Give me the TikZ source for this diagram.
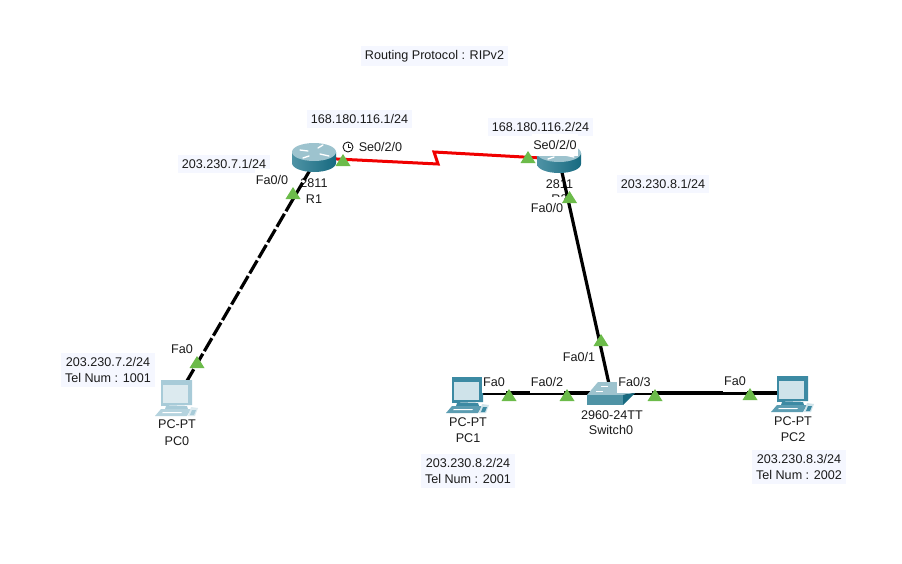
\documentclass[tikz,border=0pt]{standalone}
\usepackage{fontspec}
\setmainfont{Liberation Sans}
\definecolor{notebg}{HTML}{F5F7FF}
\definecolor{portgreen}{HTML}{6CBB4A}
\definecolor{serialred}{HTML}{F00000}
\definecolor{txt}{HTML}{1A1A1A}
\definecolor{rtop}{HTML}{9DC3CE}
\definecolor{rleft}{HTML}{4F93A5}
\definecolor{rmid}{HTML}{E6F1F4}
\definecolor{rright}{HTML}{176A80}
\definecolor{pcmon}{HTML}{3C8AA3}
\definecolor{pcbase}{HTML}{5C9DB2}
\definecolor{pcscreen}{HTML}{CFE3EA}
\definecolor{pcmonf}{HTML}{A8CBD8}
\definecolor{pcbasef}{HTML}{B5D3DE}
\definecolor{pcscreenf}{HTML}{DCEAEF}
\tikzset{
  x=1pt,y=-1pt,
  lbl/.style={inner sep=0pt,font=\fontsize{12.6}{16}\selectfont,text=txt,align=center},
  note/.style={lbl,fill=notebg,inner xsep=4pt,inner ysep=4pt},
  port/.style={lbl,fill=white,inner xsep=1pt,inner ysep=6.5pt},
  dev/.style={inner sep=0pt,minimum size=0pt},
  link/.style={line width=3.2pt,black},
  dashlink/.style={link,dash pattern=on 15pt off 3pt},
  seriallink/.style={line width=3pt,serialred,line join=miter},
  pics/porttri/.style={code={\fill[portgreen] (-7.5,0) -- (7.5,0) -- (0,-12) -- cycle;}},
  pics/routericon/.style={code={
    \path[left color=rleft,middle color=rmid,right color=rright]
      (-22,-6) -- (-22,5) arc[start angle=180,end angle=0,x radius=22,y radius=9] -- (22,-6) -- cycle;
    \fill[rtop] (0,-6) ellipse[x radius=22,y radius=9];
    \draw[white,line width=1.3pt,line cap=round]
      (-14,-8) -- (-6,-7) (4,-10) -- (9,-13) (6,-4) -- (15,-2) (-5,-2) -- (-11,0);
  }},
  pics/pcicon/.style n args={3}{code={
    % monitor
    \fill[#1] (6,0) -- (37,0) -- (37,25) -- (6,26) -- cycle;
    \fill[#3] (8,5) -- (33,5) -- (33,23) -- (8,23) -- cycle;
    \fill[#1] (11,26) -- (32,26) -- (33,29) -- (10,29) -- cycle;
    % base and keyboard
    \fill[#2] (6,29) -- (36,29) -- (32,36) -- (0,36) -- cycle;
    \fill[white] (8,32) -- (27,32) -- (26,33) -- (7,33) -- cycle;
    \fill[#3] (36,27) -- (43,28) -- (40,36) -- (33,36) -- cycle;
    \fill[#1] (37,30) -- (41,30) -- (39,35) -- (35,35) -- cycle;
  }},
}
\begin{document}
\begin{tikzpicture}
\useasboundingbox[fill=white] (0,0) rectangle (902,563);

% anchors of the devices
\node[dev] (R1) at (317,158) {};
\node[dev] (R2) at (559,159) {};
\node[dev] (PC0) at (177,398) {};
\node[dev] (PC1) at (468,393) {};
\node[dev] (PC2) at (793,393) {};
\node[dev] (SW) at (611,393) {};
\coordinate (zigA) at (438,164);
\coordinate (zigB) at (434,152);

% device texts (the links and port labels run over them)
\node[lbl] (r1model) at (314,183) {2811};
\node[lbl] (r1name) at (314,199) {R1};
\node[lbl] (r2model) at (559.5,184) {2811};
\node[lbl] (r2name) at (559.5,199) {R2};
\node[lbl] (pc0model) at (177,424) {PC-PT};
\node[lbl] (pc0name) at (177,441) {PC0};
\node[lbl] (pc1model) at (468,422) {PC-PT};
\node[lbl] (pc1name) at (468,438) {PC1};
\node[lbl] (pc2model) at (793,421) {PC-PT};
\node[lbl] (pc2name) at (793,437) {PC2};
\node[lbl] (swmodel) at (612,415) {2960-24TT};
\node[lbl] (swname) at (611,430) {Switch0};

% links
\draw[seriallink] (R1) -- (zigA) -- (zigB) -- (R2);
\draw[dashlink] (PC0) -- (R1);
\draw[link] (R2) -- (SW);
\draw[link] (PC1) -- (SW);
\draw[link] (SW) -- (PC2);

% device icons
\pic at (314,158) {routericon};
\pic at (R2) {routericon};
\pic at (155,380) {pcicon={pcmonf}{pcbasef}{pcscreenf}};
\pic at (446,377) {pcicon={pcmon}{pcbase}{pcscreen}};
\pic at (771,376) {pcicon={pcmon}{pcbase}{pcscreen}};
\fill[rtop] (587,395) -- (598,382) -- (624,382) -- (635,393) -- (623,395) -- cycle;
\fill[rleft] (587,395) -- (623,395) -- (623,405) -- (587,405) -- cycle;
\fill[rright] (623,395) -- (635,393) -- (623,405) -- cycle;
\draw[white,line width=1pt] (596,391) -- (603,391) (601,386) -- (608,386);

% notes
\node[note] (proto) at (434.5,56) {Routing Protocol : RIPv2};
\node[note] (ipserial1) at (359.5,119) {168.180.116.1/24};
\node[note] (ipserial2) at (540.5,127) {168.180.116.2/24};
\node[note] (ipr1) at (224,164) {203.230.7.1/24};
\node[note] (ipr2) at (663,184) {203.230.8.1/24};
\node[note] (ippc0) at (108,370) {203.230.7.2/24\\Tel Num : 1001};
\node[note] (ippc1) at (468,471) {203.230.8.2/24\\Tel Num : 2001};
\node[note] (ippc2) at (799,467) {203.230.8.3/24\\Tel Num : 2002};

% port labels
\node[port] (p1) at (380.5,147) {Se0/2/0};
\node[port] (p2) at (555,145) {Se0/2/0};
\node[port] (p3) at (272,180) {Fa0/0};
\node[port] (p4) at (547,208) {Fa0/0};
\node[port] (p5) at (182,349) {Fa0};
\node[port] (p6) at (494,382) {Fa0};
\node[port] (p7) at (547,382) {Fa0/2};
\node[port] (p8) at (579,357) {Fa0/1};
\node[port] (p9) at (634.5,382) {Fa0/3};
\node[port] (p10) at (735,381) {Fa0};

% clock of the DCE end
\node[circle,draw=txt,line width=0.9pt,fill=white,minimum size=10pt,inner sep=0pt] (clock) at (348,147) {};
\draw[txt,line width=0.8pt] (clock.center) -- ++(0,-3.5) (clock.center) -- ++(3,0);

% port lights
\pic at (343,166) {porttri};
\pic at (528,163) {porttri};
\pic at (293,199) {porttri};
\pic at (569.5,203) {porttri};
\pic at (601,346) {porttri};
\pic at (197,368) {porttri};
\pic at (509,401) {porttri};
\pic at (567,401) {porttri};
\pic at (655,401) {porttri};
\pic at (750,400) {porttri};
\end{tikzpicture}
\end{document}
